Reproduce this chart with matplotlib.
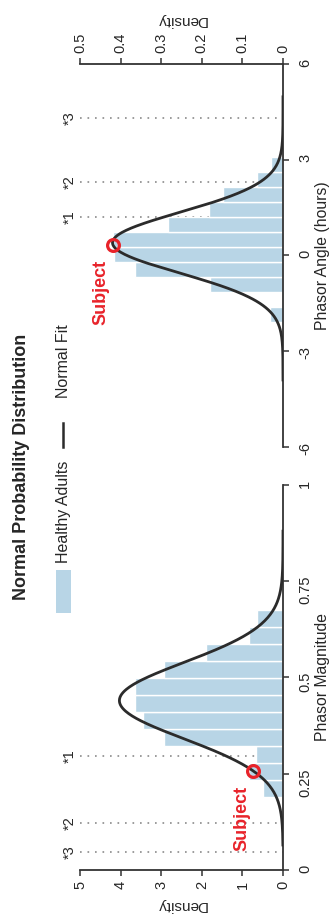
import numpy as np
import matplotlib.pyplot as plt
from matplotlib.patches import Rectangle
from matplotlib.lines import Line2D

plt.rcParams['font.family'] = ['Liberation Sans', 'DejaVu Sans']

# healthy adults, phasor magnitude histogram (lowest bin first)
mag_edges = [0.190, 0.234, 0.278, 0.322, 0.367, 0.411, 0.455, 0.499, 0.543, 0.587, 0.631, 0.675]
mag_density = [0.50, 0.83, 0.66, 2.93, 3.46, 3.65, 3.65, 2.93, 1.90, 0.84, 0.65]
mag_mean, mag_sd = 0.44, 0.099
mag_fit_range = (0.065, 0.88)
mag_subject = 0.257
mag_refs = [0.297, 0.122, 0.047]

# healthy adults, phasor angle histogram in hours (lowest bin first)
ang_edges = [-2.08, -1.61, -1.14, -0.67, -0.20, 0.27, 0.74, 1.21, 1.68, 2.15, 2.62, 3.09]
ang_density = [0.033, 0.0, 0.181, 0.365, 0.416, 0.418, 0.283, 0.182, 0.147, 0.065, 0.030]
ang_mean, ang_sd = 0.40, 0.95
ang_fit_range = (-3.9, 4.97)
ang_subject = 0.33
ang_refs = [1.21, 2.30, 4.31]

ref_labels = ['*1', '*2', '*3']

BAR = '#b8d5e6'
FIT = '#2b2b2b'
RED = '#e8232a'
INK = '#262626'


def normal_pdf(x, mu, sd):
    return np.exp(-0.5 * ((x - mu) / sd) ** 2) / (sd * np.sqrt(2 * np.pi))


def draw_panel(ax, edges, density, mu, sd, fit_range, subject, refs,
               dticks, dlabels, vticks, vlabels, vlabel, density_on_top):
    edges = np.asarray(edges)
    widths = np.diff(edges)
    centers = edges[:-1] + widths / 2

    # sideways histogram: value runs up the page, density runs right to left
    ax.barh(centers, density, height=widths, left=0, color=BAR,
            edgecolor='white', linewidth=1.0, zorder=2)

    xs = np.linspace(fit_range[0], fit_range[1], 400)
    ax.plot(normal_pdf(xs, mu, sd), xs, color=FIT, lw=2.0, zorder=3)

    for v, lab in zip(refs, ref_labels):
        ax.axhline(v, color='#8a8a8a', ls=(0, (1, 3.5)), lw=1.2, zorder=1)
        ax.text(-0.05, v, lab, transform=ax.get_yaxis_transform(),
                rotation=90, ha='center', va='center', fontsize=10.5, color=INK)

    sd_val = normal_pdf(subject, mu, sd)
    ax.plot(sd_val, subject, 'o', mfc='none', mec=RED, ms=8.5, mew=2.3, zorder=5)
    ax.annotate('Subject', xy=(sd_val, subject), xytext=(-8.5, -10.5),
                textcoords='offset points', rotation=90, ha='center', va='top',
                color=RED, fontsize=13, fontweight='bold', zorder=6)

    ax.set_xlim(dticks[-1], 0)
    ax.set_ylim(vticks[0], vticks[-1])

    for side in ['left', 'top', 'bottom']:
        ax.spines[side].set_visible(False)
    ax.spines['right'].set_color('#333333')
    ax.spines['right'].set_linewidth(1.3)
    dside = 'top' if density_on_top else 'bottom'
    ax.spines[dside].set_visible(True)
    ax.spines[dside].set_color('#333333')
    ax.spines[dside].set_linewidth(1.3)

    ax.yaxis.tick_right()
    ax.yaxis.set_label_position('right')
    ax.set_yticks(vticks)
    ax.set_yticklabels(vlabels)
    ax.tick_params(axis='y', direction='out', length=4, width=1.1, pad=7,
                   colors='#333333', labelcolor=INK, labelsize=10.5, labelrotation=90)
    ax.set_ylabel(vlabel, rotation=90, fontsize=11.3, color=INK, labelpad=2)

    if density_on_top:
        ax.xaxis.tick_top()
        ax.xaxis.set_label_position('top')
    ax.set_xticks(dticks)
    ax.set_xticklabels(dlabels)
    ax.tick_params(axis='x', direction='out', length=4, width=1.1, pad=4,
                   colors='#333333', labelcolor=INK, labelsize=10.5, labelrotation=90)
    ax.set_xlabel('Density', rotation=180, fontsize=11, color=INK, labelpad=6)


fig = plt.figure(figsize=(3.35, 9.19), dpi=100)

ax_mag = fig.add_axes([0.2388, 0.0533, 0.606, 0.419])
draw_panel(ax_mag, mag_edges, mag_density, mag_mean, mag_sd, mag_fit_range,
           mag_subject, mag_refs,
           [0, 1, 2, 3, 4, 5], ['0', '1', '2', '3', '4', '5'],
           [0, 0.25, 0.5, 0.75, 1], ['0', '0.25', '0.5', '0.75', '1'],
           'Phasor Magnitude', False)

ax_ang = fig.add_axes([0.2388, 0.5136, 0.606, 0.4168])
draw_panel(ax_ang, ang_edges, ang_density, ang_mean, ang_sd, ang_fit_range,
           ang_subject, ang_refs,
           [0, 0.1, 0.2, 0.3, 0.4, 0.5], ['0', '0.1', '0.2', '0.3', '0.4', '0.5'],
           [-6, -3, 0, 3, 6], ['-6', '-3', '0', '3', '6'],
           'Phasor Angle (hours)', True)

# title and legend, laid out sideways like the panels
fig.text(0.063, 0.492, 'Normal Probability Distribution', rotation=90,
         ha='center', va='center', fontsize=13, fontweight='bold', color=INK)

fig.add_artist(Rectangle((0.167, 0.333), 0.0448, 0.0468, transform=fig.transFigure,
                         facecolor=BAR, edgecolor='none'))
fig.text(0.19, 0.3874, 'Healthy Adults', rotation=90, ha='center', va='bottom',
         fontsize=11.5, color=INK)
fig.add_artist(Line2D([0.188, 0.188], [0.5136, 0.5397], transform=fig.transFigure,
                      color=FIT, lw=1.8))
fig.text(0.19, 0.5669, 'Normal Fit', rotation=90, ha='center', va='bottom',
         fontsize=11.5, color=INK)

fig.savefig('out.png', dpi=100)
